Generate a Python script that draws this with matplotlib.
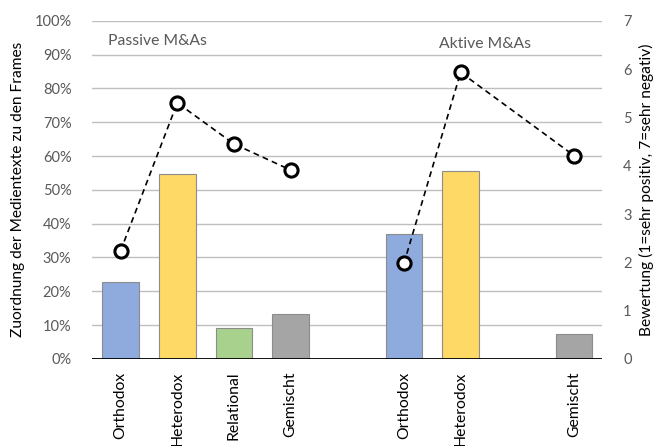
import numpy as np
import matplotlib
matplotlib.use("Agg")
import matplotlib.pyplot as plt
from matplotlib.ticker import PercentFormatter, MultipleLocator

plt.rcParams['font.family'] = ['Lato', 'DejaVu Sans']

frames = ["Orthodox", "Heterodox", "Relational", "Gemischt"]
frame_colors = ["#8FAADC", "#FFD966", "#A9D18E", "#A5A5A5"]

# share of media texts per frame (%)
passive_share = [22.7, 54.7, 9.3, 13.3]
active_share = [37.0, 55.6, None, 7.4]

# mean rating (1 = very positive, 7 = very negative)
passive_rating = [2.24, 5.30, 4.45, 3.91]
active_rating = [1.98, 5.93, None, 4.21]

groups = [("Passive M&As", passive_share, passive_rating),
          ("Aktive M&As", active_share, active_rating)]

text_col = "#595959"
fig = plt.figure(figsize=(6.61, 4.46), dpi=100)
ax = fig.add_axes([0.1396, 0.1951, 0.9112 - 0.1396, 0.9536 - 0.1951])
ax2 = ax.twinx()

n_slots = len(frames) * len(groups) + 1
tick_pos, tick_lab = [], []
for g, (title, shares, ratings) in enumerate(groups):
    offset = g * (len(frames) + 1)
    xs_line, ys_line = [], []
    for i, (frame, col) in enumerate(zip(frames, frame_colors)):
        x = offset + i
        if shares[i] is None:
            continue
        ax.bar(x, shares[i], width=0.65, color=col, edgecolor="#8C8C8C",
               linewidth=0.8, zorder=3)
        tick_pos.append(x)
        tick_lab.append(frame)
        if ratings[i] is not None:
            xs_line.append(x)
            ys_line.append(ratings[i])
    ax2.plot(xs_line, ys_line, linestyle=(0, (3.5, 2.5)), color="black",
             linewidth=1.2, marker="o", markersize=9.5, markerfacecolor="white",
             markeredgecolor="black", markeredgewidth=2.2, zorder=5)

ax.text(-0.22, 94.0, "Passive M&As", fontsize=11.3, color=text_col, va="center", ha="left")
ax.text(6.43, 93.1, "Aktive M&As", fontsize=11.3, color=text_col, va="center", ha="center")

ax.set_xlim(-0.5, n_slots - 0.5)
ax.set_ylim(0, 100)
ax2.set_ylim(0, 7)
ax.yaxis.set_major_locator(MultipleLocator(10))
ax.yaxis.set_major_formatter(PercentFormatter(decimals=0))
ax2.yaxis.set_major_locator(MultipleLocator(1))

ax.set_xticks(tick_pos)
ax.set_xticklabels(tick_lab, rotation=90, fontsize=11.3, color="black")
ax.tick_params(axis="x", length=0, pad=9)
ax.tick_params(axis="y", length=0, pad=15, labelsize=10.5, labelcolor=text_col)
ax2.tick_params(axis="y", length=0, pad=15, labelsize=10.5, labelcolor=text_col)

ax.grid(axis="y", color="#BFBFBF", linewidth=1.0, zorder=0)
ax.set_axisbelow(True)
for a in (ax, ax2):
    for s in ("top", "left", "right", "bottom"):
        a.spines[s].set_visible(False)
ax.axhline(0, color="black", linewidth=1.3, zorder=4)

ax.set_ylabel("Zuordnung der Medientexte zu den Frames", fontsize=11.2,
              color="black")
ax2.set_ylabel("Bewertung (1=sehr positiv, 7=sehr negativ)", fontsize=11.2,
               color="black")
ax.yaxis.set_label_coords(-0.132, 0.5)
ax2.yaxis.set_label_coords(1.072, 0.5)

fig.savefig("out.png", dpi=100)
